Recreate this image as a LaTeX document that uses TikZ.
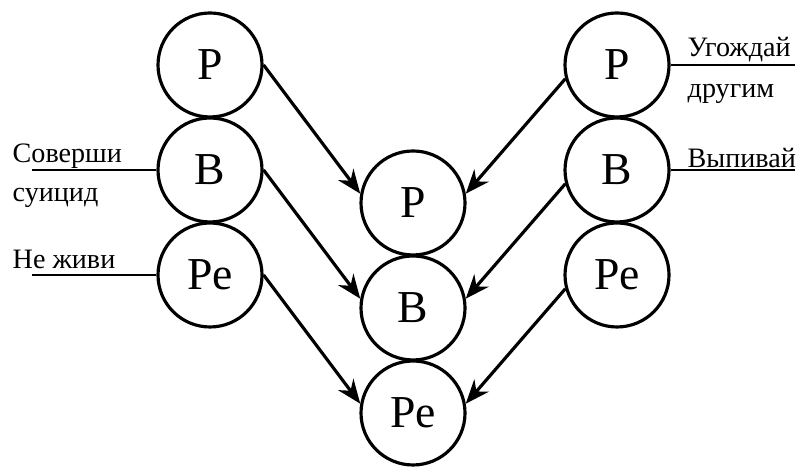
\documentclass[tikz,border=0pt]{standalone}
\usepackage{fontspec}
\setmainfont{Liberation Serif}
\usetikzlibrary{arrows.meta}

\begin{document}
\begin{tikzpicture}[
    state/.style={circle,draw,line width=0.9pt,minimum size=1.04cm,inner sep=0pt,
                  font=\fontsize{13}{15}\selectfont},
    note/.style={anchor=base west,inner sep=0pt,font=\fontsize{8}{10}\selectfont},
    arrow/.style={-{Stealth[length=2.4mm,width=1.9mm]},line width=0.9pt},
    tie/.style={line width=0.8pt}
]
\useasboundingbox (0,0) rectangle (7.98,4.69);

% parent / adult / child, left
\node[state] (lP)  at (2.10,4.04) {Р};
\node[state] (lB)  at (2.10,2.99) {В};
\node[state] (lPe) at (2.10,1.94) {Ре};
% middle
\node[state] (mP)  at (4.13,2.66) {Р};
\node[state] (mB)  at (4.13,1.61) {В};
\node[state] (mPe) at (4.13,0.56) {Ре};
% right
\node[state] (rP)  at (6.17,4.04) {Р};
\node[state] (rB)  at (6.17,2.99) {В};
\node[state] (rPe) at (6.17,1.94) {Ре};

\node[note] (lt1) at (0.12,3.06) {Соверши};
\node[note] (lt2) at (0.12,2.67) {суицид};
\node[note] (lt3) at (0.12,2.00) {Не живи};
\node[note] (rt1) at (6.87,4.12) {Угождай};
\node[note] (rt2) at (6.87,3.71) {другим};
\node[note] (rt3) at (6.87,3.01) {Выпивай};

\coordinate (sB)  at (0.32,2.99);
\coordinate (sPe) at (0.32,1.94);
\coordinate (sP)  at (7.95,4.04);
\coordinate (sRB) at (7.95,2.99);

\draw[tie] (sB) -- (lB);
\draw[tie] (sPe) -- (lPe);
\draw[tie] (sP) -- (rP);
\draw[tie] (sRB) -- (rB);

\draw[arrow] (lP.east)  -- (mP.170);
\draw[arrow] (lB.east)  -- (mB.170);
\draw[arrow] (lPe.east) -- (mPe.170);
\draw[arrow] (rP.195)   -- (mP.10);
\draw[arrow] (rB.195)   -- (mB.10);
\draw[arrow] (rPe.195)  -- (mPe.10);
\end{tikzpicture}
\end{document}
